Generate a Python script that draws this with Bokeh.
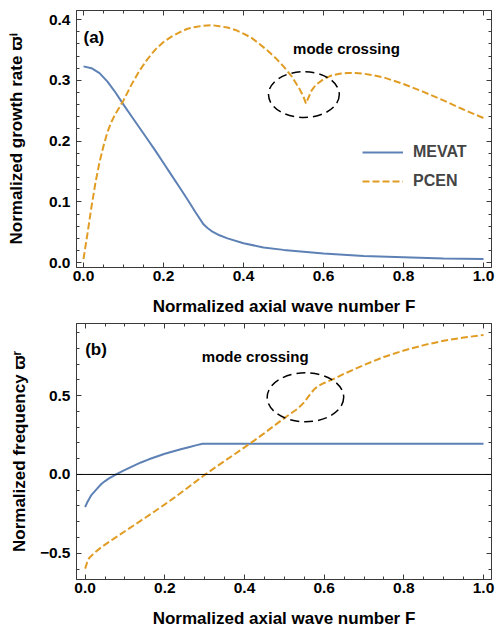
from bokeh.plotting import figure
from bokeh.models import (Range1d, LinearAxis, SingleIntervalTicker, CustomJSTickFormatter,
                          Span, Label, Legend, LegendItem)
from bokeh.layouts import column
from bokeh.embed import file_html
from bokeh.resources import INLINE

# ---- (a) normalized growth rate vs normalized axial wave number ----
F_growth_mevat = [0.0, 0.02, 0.04, 0.06, 0.08, 0.10, 0.12, 0.14, 0.16, 0.18, 0.20, 0.22, 0.24,
                  0.26, 0.28, 0.30, 0.31, 0.32, 0.34, 0.36, 0.40, 0.45, 0.50, 0.60, 0.70, 0.80,
                  0.90, 1.00]
growth_mevat = [0.323, 0.320, 0.312, 0.298, 0.280, 0.260, 0.241, 0.222, 0.203, 0.184, 0.164, 0.144,
                0.124, 0.104, 0.083, 0.063, 0.057, 0.052, 0.045, 0.040, 0.032, 0.025, 0.021, 0.015,
                0.011, 0.009, 0.007, 0.006]

F_growth_pcen = [0.0, 0.01, 0.02, 0.03, 0.04, 0.05, 0.06, 0.07, 0.08, 0.09, 0.10, 0.12, 0.14, 0.16,
                 0.18, 0.20, 0.22, 0.24, 0.26, 0.28, 0.30, 0.32, 0.34, 0.36, 0.38, 0.40, 0.42, 0.44,
                 0.46, 0.48, 0.50, 0.52, 0.54, 0.55, 0.556, 0.56, 0.57, 0.58, 0.60, 0.62, 0.64, 0.66,
                 0.68, 0.70, 0.72, 0.75, 0.80, 0.85, 0.90, 0.95, 1.00]
growth_pcen = [0.006, 0.048, 0.092, 0.132, 0.165, 0.192, 0.215, 0.232, 0.245, 0.256, 0.267, 0.293,
               0.316, 0.335, 0.351, 0.363, 0.372, 0.379, 0.385, 0.388, 0.390, 0.391, 0.389, 0.387,
               0.383, 0.377, 0.370, 0.360, 0.349, 0.337, 0.323, 0.307, 0.286, 0.273, 0.262, 0.268,
               0.283, 0.292, 0.302, 0.308, 0.311, 0.312, 0.312, 0.311, 0.309, 0.305, 0.294, 0.281,
               0.267, 0.252, 0.238]

# ---- (b) normalized frequency vs normalized axial wave number ----
F_freq_mevat = [0.0, 0.005, 0.01, 0.015, 0.02, 0.03, 0.04, 0.05, 0.06, 0.07, 0.08, 0.10, 0.12,
                0.14, 0.16, 0.18, 0.20, 0.22, 0.24, 0.26, 0.28, 0.295, 0.30, 0.40, 0.60, 0.80, 1.00]
freq_mevat = [-0.207, -0.178, -0.155, -0.133, -0.118, -0.090, -0.062, -0.042, -0.025, -0.010, 0.004,
              0.029, 0.053, 0.076, 0.096, 0.114, 0.131, 0.146, 0.160, 0.173, 0.186, 0.194, 0.195,
              0.195, 0.195, 0.194, 0.194]

F_freq_pcen = [0.0, 0.005, 0.01, 0.02, 0.03, 0.04, 0.05, 0.075, 0.10, 0.125, 0.15, 0.175, 0.20,
               0.225, 0.25, 0.275, 0.30, 0.325, 0.35, 0.375, 0.40, 0.425, 0.45, 0.475, 0.50, 0.52,
               0.535, 0.55, 0.565, 0.575, 0.585, 0.60, 0.62, 0.65, 0.70, 0.75, 0.80, 0.85, 0.90,
               0.95, 1.00]
freq_pcen = [-0.597, -0.558, -0.530, -0.505, -0.483, -0.463, -0.445, -0.402, -0.360, -0.318, -0.276,
             -0.233, -0.190, -0.145, -0.098, -0.050, -0.003, 0.042, 0.085, 0.128, 0.172, 0.216,
             0.262, 0.310, 0.357, 0.393, 0.420, 0.458, 0.510, 0.540, 0.560, 0.580, 0.601, 0.638,
             0.694, 0.745, 0.786, 0.820, 0.848, 0.868, 0.884]

series_names = ["MEVAT", "PCEN"]
x_label = "Normalized axial wave number F"
y_label_a = "Normalized growth rate \u03d6\u2071"
y_label_b = "Normalized frequency \u03d6\u02b3"
note_text = "mode crossing"

BLUE = "#5E81B5"
ORANGE = "#E19C24"
FRAME = "#3a3a3a"
FONT = "Liberation Sans"

fmt = CustomJSTickFormatter(code="""
    if (Math.abs(tick) < 1e-9) { return "0.0"; }
    return tick.toFixed(1).replace("-", "\\u2212");
""")
blank_fmt = CustomJSTickFormatter(code="return '';")


def styled_figure(x_range, y_range, y_step, height, left, right, top, bottom):
    p = figure(width=496, height=height, x_range=x_range, y_range=y_range,
               output_backend="svg", toolbar_location=None,
               min_border_left=left, min_border_right=right,
               min_border_top=top, min_border_bottom=bottom)
    p.xgrid.visible = False
    p.ygrid.visible = False
    p.outline_line_color = FRAME
    p.outline_line_width = 1
    p.background_fill_color = "white"
    p.border_fill_color = "white"

    xt = SingleIntervalTicker(interval=0.2, num_minor_ticks=4)
    yt = SingleIntervalTicker(interval=y_step, num_minor_ticks=5)

    for ax, tk in ((p.below[0], xt), (p.left[0], yt)):
        ax.ticker = tk
        ax.formatter = fmt
        ax.axis_line_color = FRAME
        ax.major_tick_line_color = FRAME
        ax.minor_tick_line_color = FRAME
        ax.major_tick_in = 5
        ax.major_tick_out = 0
        ax.minor_tick_in = 3
        ax.minor_tick_out = 0
        ax.major_label_text_font = FONT
        ax.major_label_text_font_style = "bold"
        ax.major_label_text_font_size = "15.5px"
        ax.major_label_text_color = "black"
        ax.axis_label_text_font = FONT
        ax.axis_label_text_font_style = "bold"
        ax.axis_label_text_font_size = "17px"
        ax.axis_label_text_color = "black"

    p.below[0].major_label_standoff = 3
    p.below[0].axis_label_standoff = 13
    p.left[0].major_label_standoff = 6

    # mirrored ticks on the top and right edges of the frame
    for side, tk in (("above", xt), ("right", yt)):
        ax = LinearAxis(ticker=tk, formatter=blank_fmt, major_label_standoff=0,
                        major_label_text_font_size="1px", axis_label_standoff=0,
                        axis_line_color=FRAME, major_tick_line_color=FRAME,
                        minor_tick_line_color=FRAME, major_tick_in=5, major_tick_out=0,
                        minor_tick_in=3, minor_tick_out=0)
        p.add_layout(ax, side)
    return p


def add_text(p, x, y, text, size):
    p.add_layout(Label(x=x, y=y, text=text, text_font=FONT, text_font_style="bold",
                       text_font_size=size, text_color="black", text_baseline="alphabetic"))


# ---------------- panel (a) ----------------
pa = styled_figure(Range1d(-0.0175, 1.02), Range1d(-0.008, 0.415), 0.1,
                   height=320, left=76, right=4, top=10, bottom=53)
pa.below[0].axis_label = x_label
pa.left[0].axis_label = y_label_a
pa.left[0].axis_label_standoff = 20

ra1 = pa.line(F_growth_mevat, growth_mevat, line_color=BLUE, line_width=2)
ra2 = pa.line(F_growth_pcen, growth_pcen, line_color=ORANGE, line_width=2, line_dash="7 3")
pa.ellipse(x=[0.551], y=[0.2766], width=[0.177], height=[0.0754], fill_alpha=0,
           line_color="black", line_width=1.5, line_dash="9 5")

add_text(pa, 0.0, 0.37, "(a)", "17px")
add_text(pa, 0.524, 0.353, note_text, "15px")

legend = Legend(items=[LegendItem(label=series_names[0], renderers=[ra1]),
                       LegendItem(label=series_names[1], renderers=[ra2])],
                location=(286, 76), orientation="vertical",
                glyph_width=41, glyph_height=20, label_height=20, label_standoff=10,
                spacing=9, padding=0, margin=0, border_line_alpha=0,
                background_fill_alpha=0, label_text_font=FONT,
                label_text_font_style="bold", label_text_font_size="16px")
pa.add_layout(legend)

# ---------------- panel (b) ----------------
pb = styled_figure(Range1d(-0.0217, 1.02), Range1d(-0.666, 0.957), 0.5,
                   height=310, left=74, right=5, top=3, bottom=51)
pb.below[0].axis_label = x_label
pb.left[0].axis_label = y_label_b
pb.left[0].axis_label_standoff = 8

pb.add_layout(Span(location=0, dimension="width", line_color="black", line_width=1))
pb.line(F_freq_mevat, freq_mevat, line_color=BLUE, line_width=2)
pb.line(F_freq_pcen, freq_pcen, line_color=ORANGE, line_width=2, line_dash="7 3")
pb.ellipse(x=[0.553], y=[0.489], width=[0.192], height=[0.31], fill_alpha=0,
           line_color="black", line_width=1.5, line_dash="9 5")

add_text(pb, 0.0, 0.79, "(b)", "17px")
add_text(pb, 0.293, 0.75, note_text, "15px")

layout = column(pa, pb, spacing=0)
open("out.html", "w").write(file_html(layout, INLINE))
